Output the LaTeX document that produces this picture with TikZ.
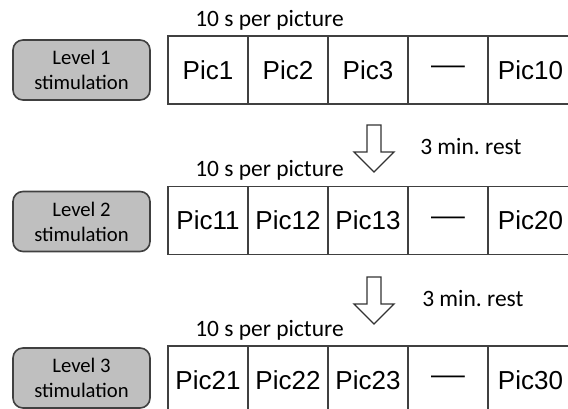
\documentclass[tikz,border=0pt]{standalone}
\usepackage{fontspec}
\setmainfont{Carlito}
\newfontfamily\cellfont{Liberation Sans}
\usetikzlibrary{positioning}

% long dash used in the skipped cells
\newcommand{\skipdash}{\raisebox{-3pt}{\scalebox{1.3}[1]{—}}}

\begin{document}
\begin{tikzpicture}[
  x=0.75pt, y=-0.75pt,
  level/.style = {rectangle, rounded corners=7.5pt, minimum width=102.75pt,
                  minimum height=45pt, align=center,
                  font=\fontsize{15.5}{18.75}\selectfont,
                  fill=gray!50, draw=black!75, line width=1.2pt},
  cell/.style  = {rectangle, minimum width=60pt, minimum height=51pt,
                  inner sep=0pt, outer sep=0pt,
                  font=\cellfont\fontsize{19.5}{22}\selectfont,
                  draw=black!75, line width=1pt},
  note/.style  = {font=\fontsize{17.6}{21}\selectfont, inner sep=0pt,
                  anchor=base west},
  rest/.pic    = {\draw[black!80, line width=1pt, line join=miter]
                  (-7,0) -- (-7,27) -- (-20,27) -- (0,47) -- (20,27)
                  -- (7,27) -- (7,0) -- cycle;}
]
\path[use as bounding box, clip] (0,0) rectangle (568,409);

% ===================== LEVEL 1 =====================
\node[level] (lv1) at (81.5,70) {Level 1\\stimulation};
\node[cell, anchor=west] (p1) at (168,70) {Pic1};
\node[cell, right=0pt of p1] (p2) {Pic2};
\node[cell, right=0pt of p2] (p3) {Pic3};
\node[cell, right=0pt of p3] (p4) {\skipdash};
\node[cell, right=0pt of p4, minimum width=63.75pt] (p10) {Pic10};
\node[note] (t1) at ([xshift=20.25pt, yshift=6.75pt]p1.north west)
  {10 s per picture};

% rest between levels 1 and 2
\pic at (374,125) {rest};
\node[note] (r1) at (420,155) {3 min.\ rest};

% ===================== LEVEL 2 =====================
\node[level] (lv2) at (81.5,221.5) {Level 2\\stimulation};
\node[cell, anchor=west] (p11) at (168,220.5) {Pic11};
\node[cell, right=0pt of p11] (p12) {Pic12};
\node[cell, right=0pt of p12] (p13) {Pic13};
\node[cell, right=0pt of p13] (p14) {\skipdash};
\node[cell, right=0pt of p14, minimum width=63.75pt] (p20) {Pic20};
\node[note] (t2) at ([xshift=20.25pt, yshift=7.5pt]p11.north west)
  {10 s per picture};

% rest between levels 2 and 3
\pic at (374,277) {rest};
\node[note] (r2) at (422,307) {3 min.\ rest};

% ===================== LEVEL 3 =====================
\node[level] (lv3) at (81.5,378) {Level 3\\stimulation};
\node[cell, anchor=west] (p21) at (168,380) {Pic21};
\node[cell, right=0pt of p21] (p22) {Pic22};
\node[cell, right=0pt of p22] (p23) {Pic23};
\node[cell, right=0pt of p23] (p24) {\skipdash};
\node[cell, right=0pt of p24, minimum width=63.75pt] (p30) {Pic30};
\node[note] (t3) at ([xshift=20.25pt, yshift=6.75pt]p21.north west)
  {10 s per picture};

\end{tikzpicture}
\end{document}
